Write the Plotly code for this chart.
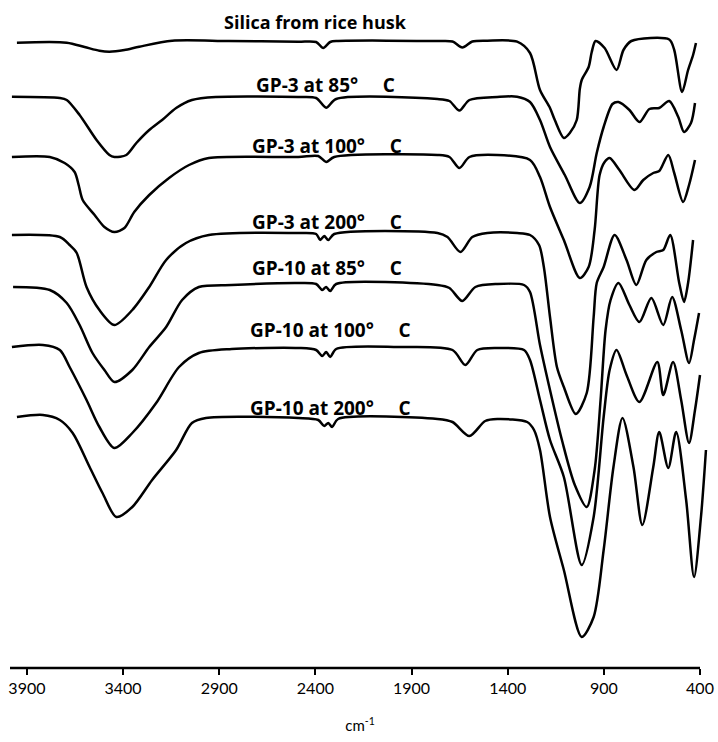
import plotly.graph_objects as go

# wavenumber (cm-1) and offset transmittance (a.u.)
silica_wn = [3952, 3693, 3600, 3523, 3471, 3393, 3316, 3145, 2850, 2489,
             2396, 2359, 2323, 2282, 1765, 1687, 1636, 1584, 1506, 1351,
             1284, 1232, 1180, 1155, 1108, 1077, 1041, 1025, 1015, 979,
             963, 943, 896, 834, 798, 757, 560, 534, 493, 462, 436, 421]
silica_t = [62.53, 62.53, 62.1, 61.73, 61.63, 61.8, 62.13, 62.73, 62.7, 62.63,
            62.6, 62.0, 62.6, 62.7, 62.7, 62.65, 62.05, 62.65, 62.73, 62.63,
            61.5, 57.8, 56.0, 54.8, 53.0, 53.5, 54.8, 57.9, 58.8, 60.1,
            61.6, 62.7, 62.0, 59.8, 61.8, 62.7, 62.85, 61.8, 57.6, 59.8, 61.3, 62.5]

gp3_85_wn = [3978, 3729, 3693, 3626, 3538, 3471, 3445, 3383, 3331, 3264,
             3197, 3124, 3042, 2918, 2489, 2396, 2344, 2292, 1765, 1703,
             1651, 1599, 1454, 1351, 1284, 1232, 1180, 1103, 1025, 974,
             937, 901, 855, 824, 767, 715, 663, 612, 560, 513, 483, 447, 426]
gp3_85_t = [57.13, 57.0, 56.8, 55.3, 52.8, 51.3, 51.1, 51.3, 52.5, 53.8,
            54.8, 56.0, 56.8, 57.1, 57.1, 57.0, 56.03, 56.9, 56.9, 56.7,
            55.75, 56.8, 57.1, 57.13, 56.6, 54.8, 52.1, 49.3, 46.5, 48.1,
            51.5, 54.1, 56.4, 56.6, 55.8, 54.6, 55.9, 56.0, 56.7, 55.1, 53.6, 54.5, 56.5]

gp3_100_wn = [3978, 3781, 3704, 3652, 3631, 3610, 3548, 3497, 3445, 3393,
              3342, 3264, 3161, 3057, 2954, 2489, 2385, 2344, 2302, 1765,
              1703, 1651, 1599, 1454, 1284, 1232, 1180, 1108, 1025, 979,
              948, 922, 896, 870, 819, 741, 695, 643, 612, 565, 534, 488, 457, 426]
gp3_100_t = [51.1, 51.1, 50.5, 49.6, 48.3, 46.8, 45.3, 44.1, 43.6, 44.0,
             45.6, 47.3, 49.0, 50.3, 51.0, 51.1, 51.2, 50.6, 51.1, 51.3,
             51.1, 50.0, 51.1, 51.3, 50.8, 49.1, 46.1, 42.8, 39.0, 40.1,
             43.8, 49.3, 50.6, 51.0, 49.8, 47.8, 48.8, 49.5, 49.7, 51.3, 49.5, 46.6, 48.3, 50.8]

gp3_200_wn = [3978, 3729, 3678, 3641, 3590, 3523, 3445, 3352, 3264, 3176,
              3073, 2954, 2489, 2396, 2375, 2354, 2333, 2302, 1765, 1713,
              1646, 1584, 1506, 1351, 1284, 1237, 1212, 1180, 1144, 1108,
              1046, 989, 953, 937, 901, 844, 782, 731, 679, 627, 591, 555,
              508, 483, 462, 436]
gp3_200_t = [43.3, 43.1, 42.3, 41.5, 38.1, 35.8, 34.3, 35.8, 38.1, 40.8,
             42.5, 43.3, 43.5, 43.4, 42.8, 43.2, 42.8, 43.4, 43.5, 43.1,
             41.6, 43.1, 43.5, 43.5, 43.3, 42.3, 40.1, 35.1, 30.1, 28.1,
             25.4, 27.5, 35.1, 38.5, 40.1, 43.3, 40.8, 38.3, 40.8, 41.6, 41.8, 43.3,
             38.5, 36.6, 38.5, 42.8]

gp10_85_wn = [3972, 3781, 3693, 3626, 3559, 3497, 3445, 3352, 3264, 3176,
              3093, 3006, 2835, 2489, 2396, 2364, 2344, 2323, 2292, 1765,
              1703, 1636, 1568, 1454, 1315, 1284, 1232, 1180, 1118, 1051,
              989, 948, 917, 891, 865, 824, 767, 715, 653, 591, 545, 498,
              457, 431, 405]
gp10_85_t = [38.1, 37.8, 36.5, 34.3, 31.5, 29.8, 28.6, 29.8, 32.1, 34.1,
             36.8, 38.1, 38.3, 38.5, 38.4, 37.8, 38.1, 37.7, 38.4, 38.3,
             38.0, 36.7, 38.1, 38.4, 38.3, 37.6, 32.3, 27.8, 22.8, 18.3,
             16.1, 19.8, 26.8, 33.8, 36.8, 38.5, 36.3, 34.6, 37.0, 34.3, 37.1, 33.8,
             30.5, 32.8, 35.5]

gp10_100_wn = [3978, 3817, 3729, 3678, 3590, 3523, 3445, 3352, 3228, 3109,
               3006, 2835, 2489, 2396, 2364, 2344, 2323, 2292, 1972, 1687,
               1620, 1558, 1454, 1315, 1284, 1232, 1180, 1108, 1015, 953,
               901, 870, 834, 782, 715, 622, 591, 540, 498, 457, 426, 400]
gp10_100_t = [32.1, 32.3, 31.8, 30.1, 26.8, 24.1, 22.0, 23.5, 26.5, 30.1,
              31.5, 31.9, 32.0, 31.8, 31.2, 31.6, 31.1, 31.9, 32.1, 31.8,
              30.3, 31.8, 32.0, 31.8, 30.8, 26.8, 22.8, 19.1, 10.3, 15.1,
              25.1, 29.8, 31.8, 29.3, 26.6, 30.6, 27.3, 30.6, 26.8, 22.5, 25.8, 29.3]

gp10_200_wn = [3952, 3817, 3729, 3662, 3574, 3507, 3435, 3352, 3249, 3124,
               3042, 2969, 2489, 2385, 2354, 2333, 2313, 2282, 1765, 1687,
               1599, 1517, 1454, 1299, 1263, 1232, 1180, 1108, 1015, 953,
               901, 850, 803, 746, 700, 643, 612, 565, 524, 472, 431, 395, 369]
gp10_200_t = [25.1, 25.3, 24.8, 23.5, 20.1, 17.5, 15.1, 16.1, 18.8, 21.8,
              24.5, 25.0, 25.0, 24.8, 24.2, 24.5, 24.1, 24.9, 24.9, 24.6,
              23.2, 24.7, 24.9, 24.6, 23.8, 21.8, 15.1, 9.8, 3.1, 5.1,
              11.8, 20.1, 25.0, 20.1, 14.3, 20.1, 23.6, 20.0, 23.6, 16.8, 9.1, 15.1, 21.8]

series = [
    ("Silica from rice husk", silica_wn, silica_t),
    ("GP-3 at 85° C", gp3_85_wn, gp3_85_t),
    ("GP-3 at 100° C", gp3_100_wn, gp3_100_t),
    ("GP-3 at 200° C", gp3_200_wn, gp3_200_t),
    ("GP-10 at 85° C", gp10_85_wn, gp10_85_t),
    ("GP-10 at 100° C", gp10_100_wn, gp10_100_t),
    ("GP-10 at 200° C", gp10_200_wn, gp10_200_t),
]

# label text and its position (wavenumber, offset transmittance)
GAP = "\u00a0\u00a0\u00a0\u00a0 "
label_texts = ["Silica from rice husk",
               "GP-3 at 85°" + GAP + "C", "GP-3 at 100°" + GAP + "C",
               "GP-3 at 200°" + GAP + "C", "GP-10 at 85°" + GAP + "C",
               "GP-10 at 100°" + GAP + "C", "GP-10 at 200°" + GAP + "C"]
label_wn = [2400, 2350, 2340, 2340, 2340, 2320, 2320]
label_t = [64.6, 58.3, 52.2, 44.6, 40.0, 33.8, 26.0]

tick_vals = [3900, 3400, 2900, 2400, 1900, 1400, 900, 400]

fig = go.Figure()
for name, wn, t in series:
    fig.add_trace(go.Scatter(x=wn, y=t, mode="lines", name=name,
                             line=dict(color="black", width=2.5, shape="spline", smoothing=0.8),
                             showlegend=False, hoverinfo="skip"))

for i, (txt, x, y) in enumerate(zip(label_texts, label_wn, label_t)):
    fig.add_annotation(x=x, y=y, text=txt, showarrow=False, xanchor="center", yanchor="middle",
                       font=dict(family="Open Sans", size=18 if i == 0 else 19,
                                 color="black", weight="bold"))

fig.add_shape(type="line", xref="x", yref="paper", x0=3988, x1=400, y0=0, y1=0,
              line=dict(color="black", width=2.5))

fig.update_layout(
    width=718, height=742,
    margin=dict(l=10, r=4, t=20, b=74),
    plot_bgcolor="white", paper_bgcolor="white",
    xaxis=dict(range=[3988, 348], tickvals=tick_vals, ticktext=[str(v) for v in tick_vals],
               ticks="outside", ticklen=6, tickwidth=2, tickcolor="black",
               showline=False, showgrid=False, zeroline=False,
               tickfont=dict(family="Lato", size=16, color="black"),
               title=dict(text="cm<sup>-1</sup>", font=dict(family="Lato", size=15, color="black"),
                          standoff=24)),
    yaxis=dict(range=[0, 64.8], visible=False, showgrid=False, zeroline=False),
)

fig.write_html("out.html")
